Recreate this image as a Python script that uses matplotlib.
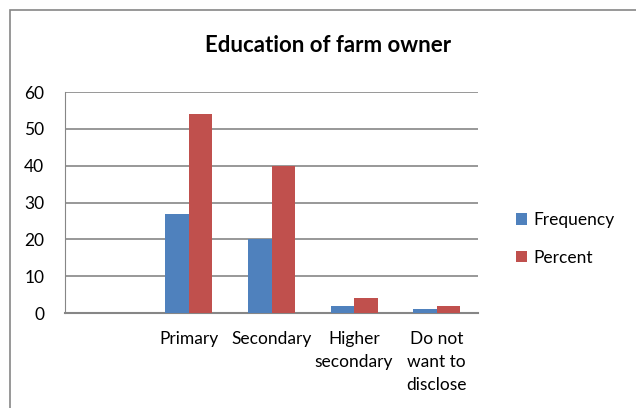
import numpy as np
import matplotlib.pyplot as plt
from matplotlib.patches import Rectangle

categories = ["", "Primary", "Secondary", "Higher\nsecondary", "Do not\nwant to\ndisclose"]
frequency = [0, 27, 20, 2, 1]
percent = [0, 54, 40, 4, 2]

plt.rcParams['font.family'] = ['Lato', 'DejaVu Sans']

fig = plt.figure(figsize=(6.36, 4.08), dpi=100)
ax = fig.add_axes([65 / 636, 1 - 313 / 408, (478 - 65) / 636, (313 - 92) / 408])

x = np.arange(len(categories))
w = 0.285
ax.bar(x - w / 2, frequency, w, color="#4f81bd", label="Frequency", zorder=3)
ax.bar(x + w / 2, percent, w, color="#c0504d", label="Percent", zorder=3)

ax.set_xlim(-0.5, len(categories) - 0.5)
ax.set_ylim(0, 60)
ax.set_yticks(range(0, 61, 10))
ax.set_xticks(x)
ax.set_xticklabels(categories, fontsize=12.5, linespacing=1.55, va="top")
ax.tick_params(axis="both", length=0, labelsize=12.5)
ax.tick_params(axis="y", pad=15)
ax.tick_params(axis="x", pad=13)
ax.grid(axis="y", color="#868686", linewidth=1.2, zorder=0)
for s in ["top", "right"]:
    ax.spines[s].set_visible(False)
ax.spines["left"].set_color("#868686")
ax.spines["bottom"].set_color("#868686")
ax.spines["bottom"].set_linewidth(1.5)

fig.text(328 / 636, 1 - 45 / 408, "Education of farm owner", ha="center", va="center",
         fontsize=16, fontweight="bold")

ax.legend(loc="center left", bbox_to_anchor=(1.055, 0.335), frameon=False, fontsize=12.5,
          handlelength=0.6, handleheight=0.6, handletextpad=0.4, labelspacing=1.25)

# outer chart border
fig.patches.append(Rectangle((10 / 636, -0.1), 1, 1 - 10 / 408 + 0.1, transform=fig.transFigure,
                             fill=False, edgecolor="#868686", linewidth=1.2))

fig.savefig("out.png", dpi=100)
